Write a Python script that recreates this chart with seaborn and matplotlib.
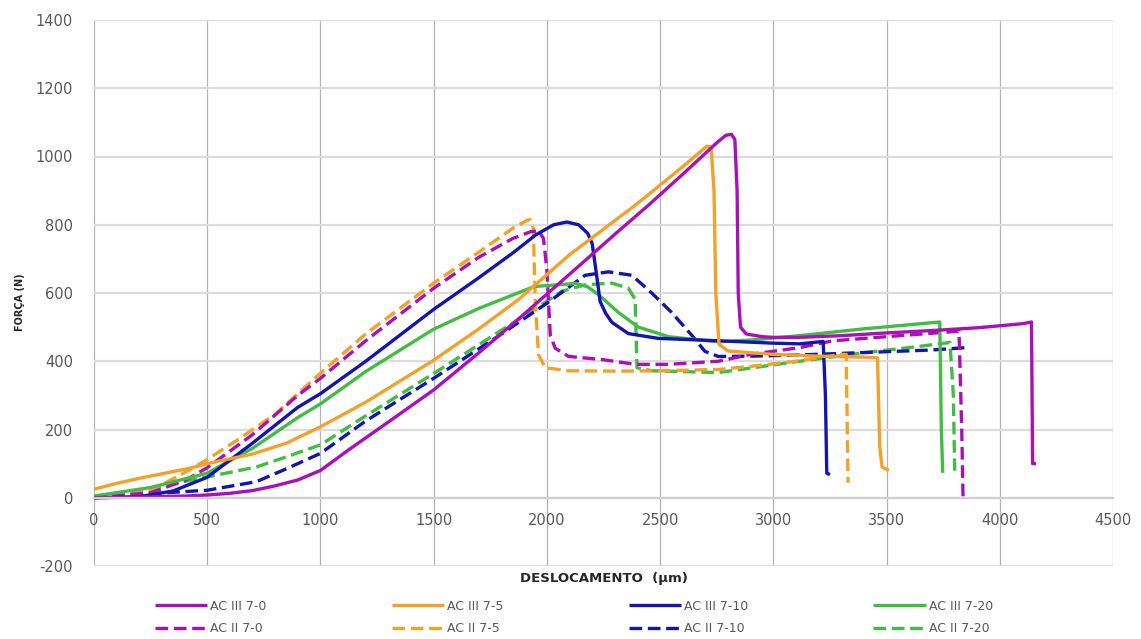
import numpy as np
import pandas as pd
import matplotlib
matplotlib.use("Agg")
import matplotlib.pyplot as plt
import seaborn as sns

# ---------------- data ----------------
x_iii_0 = [0, 200, 400, 500, 600, 700, 800, 900, 1000, 1130, 1300, 1500, 1700, 1875, 2100, 2300, 2448, 2600, 2750, 2790, 2815, 2830, 2840, 2845, 2855, 2880, 2950, 3000, 3117, 3300, 3500, 3700, 3900, 4100, 4140, 4145, 4160]
y_iii_0 = [0, 2, 5, 8, 13, 21, 35, 52, 80, 143, 222, 316, 425, 524, 655, 772, 857, 948, 1040, 1062, 1065, 1050, 900, 600, 500, 480, 472, 470, 470, 475, 483, 490, 498, 510, 515, 100, 100]

x_iii_5 = [0, 100, 200, 420, 500, 700, 850, 1000, 1200, 1500, 1700, 1875, 2100, 2390, 2600, 2706, 2725, 2738, 2746, 2760, 2800, 3000, 3200, 3400, 3460, 3470, 3480, 3510]
y_iii_5 = [25, 42, 57, 86, 100, 128, 160, 208, 280, 403, 495, 581, 712, 857, 970, 1030, 1028, 900, 600, 450, 430, 420, 415, 412, 410, 150, 90, 80]

x_iii_10 = [0, 200, 350, 500, 700, 900, 1000, 1200, 1500, 1700, 1855, 1950, 2030, 2088, 2140, 2180, 2200, 2220, 2235, 2260, 2287, 2360, 2492, 2757, 3000, 3117, 3220, 3230, 3236, 3250]
y_iii_10 = [0, 3, 20, 60, 160, 265, 305, 400, 552, 645, 720, 770, 800, 808, 800, 775, 745, 650, 575, 540, 514, 481, 467, 460, 453, 451, 458, 300, 72, 68]

x_iii_20 = [0, 250, 500, 700, 900, 1000, 1200, 1500, 1700, 1944, 2130, 2180, 2228, 2316, 2404, 2537, 2757, 2900, 3117, 3400, 3700, 3735, 3742, 3748]
y_iii_20 = [5, 30, 72, 145, 235, 275, 370, 494, 555, 619, 628, 618, 595, 543, 500, 472, 457, 462, 475, 495, 513, 515, 200, 73]

x_ii_0 = [0, 250, 400, 500, 700, 900, 1000, 1200, 1500, 1700, 1850, 1930, 1963, 1985, 2000, 2015, 2037, 2096, 2243, 2390, 2537, 2757, 2900, 3117, 3263, 3558, 3820, 3832, 3838]
y_ii_0 = [0, 15, 50, 88, 185, 300, 350, 460, 614, 705, 760, 780, 782, 760, 667, 476, 438, 414, 405, 391, 391, 400, 420, 440, 460, 475, 488, 200, -5]

x_ii_5 = [0, 250, 420, 500, 644, 800, 900, 1000, 1200, 1500, 1700, 1850, 1910, 1926, 1940, 1949, 1963, 1993, 2096, 2300, 2500, 2757, 2900, 3100, 3300, 3322, 3330]
y_ii_5 = [0, 20, 81, 112, 174, 245, 305, 365, 480, 629, 720, 790, 812, 815, 790, 571, 419, 381, 372, 371, 372, 376, 385, 400, 420, 420, 44]

x_ii_10 = [0, 276, 500, 717, 850, 1000, 1200, 1500, 1800, 2000, 2169, 2272, 2375, 2463, 2551, 2640, 2698, 2757, 2900, 3100, 3300, 3500, 3700, 3854]
y_ii_10 = [0, 13, 22, 47, 85, 130, 225, 350, 480, 570, 652, 662, 652, 600, 543, 476, 429, 414, 415, 418, 423, 428, 433, 440]

x_ii_20 = [0, 203, 500, 717, 850, 1000, 1200, 1500, 1750, 1963, 2066, 2169, 2287, 2360, 2390, 2395, 2398, 2463, 2757, 2900, 3117, 3400, 3600, 3780, 3795, 3801]
y_ii_20 = [3, 22, 61, 90, 120, 155, 240, 364, 470, 560, 605, 624, 629, 614, 581, 450, 381, 372, 367, 380, 400, 425, 440, 455, 300, 79]

labels = ["AC III 7-0", "AC II 7-0", "AC III 7-5", "AC II 7-5",
          "AC III 7-10", "AC II 7-10", "AC III 7-20", "AC II 7-20"]
x_ticks = [0, 500, 1000, 1500, 2000, 2500, 3000, 3500, 4000, 4500]
y_ticks = [-200, 0, 200, 400, 600, 800, 1000, 1200, 1400]

series = {
    "AC III 7-0": (x_iii_0, y_iii_0),
    "AC II 7-0": (x_ii_0, y_ii_0),
    "AC III 7-5": (x_iii_5, y_iii_5),
    "AC II 7-5": (x_ii_5, y_ii_5),
    "AC III 7-10": (x_iii_10, y_iii_10),
    "AC II 7-10": (x_ii_10, y_ii_10),
    "AC III 7-20": (x_iii_20, y_iii_20),
    "AC II 7-20": (x_ii_20, y_ii_20),
}

colors = {"7-0": "#AA10B8", "7-5": "#F2A22A", "7-10": "#1414B0", "7-20": "#44BB44"}

# ---------------- figure ----------------
sns.set_theme(style="white")
plt.rcParams["font.family"] = ["DejaVu Sans"]

fig = plt.figure(figsize=(11.41, 6.39), dpi=100)
ax = fig.add_axes([94 / 1141, 1 - 566 / 639, (1113 - 94) / 1141, (566 - 20) / 639])

draw_order = ["AC II 7-20", "AC II 7-10", "AC II 7-5", "AC II 7-0",
              "AC III 7-20", "AC III 7-10", "AC III 7-5", "AC III 7-0"]
handles = {}
for name in draw_order:
    xs, ys = series[name]
    grp = name.split()[-1]
    dashed = name.startswith("AC II ")
    df = pd.DataFrame({"x": xs, "y": ys})
    sns.lineplot(data=df, x="x", y="y", ax=ax, sort=False, estimator=None,
                 color=colors[grp], linewidth=2.4, label=name)
    line = ax.lines[-1]
    line.set_solid_capstyle("butt")
    line.set_solid_joinstyle("round")
    if dashed:
        line.set_dashes((3.8, 1.7))
        line.set_dash_capstyle("butt")
    handles[name] = line

ax.set_xlim(0, 4500)
ax.set_ylim(-200, 1400)
ax.set_xticks(x_ticks)
ax.set_yticks(y_ticks)
ax.set_xticklabels([str(v) for v in x_ticks])
ax.set_yticklabels([str(v) for v in y_ticks])

ax.xaxis.grid(True, color="#b4b4b4", linewidth=0.9)
ax.yaxis.grid(True, color="#dcdcdc", linewidth=1.6)
ax.set_axisbelow(True)
for s in ["top", "right", "left"]:
    ax.spines[s].set_visible(False)
ax.spines["bottom"].set_position(("data", 0))
ax.spines["bottom"].set_color("#d0d0d0")
ax.spines["bottom"].set_linewidth(1.6)

ax.tick_params(axis="x", length=0, pad=11, labelsize=10.5, labelcolor="#595959")
ax.tick_params(axis="y", length=0, pad=15, labelsize=10.5, labelcolor="#595959")

ax.set_xlabel("DESLOCAMENTO  (µm)", fontsize=9.5, fontweight="bold", color="#262626")
ax.xaxis.set_label_coords(0.5005, -0.011)
ax.set_ylabel("FORÇA (N)", fontsize=7, fontweight="bold", color="#262626")
ax.yaxis.set_label_coords(-0.068, 0.484)

leg_handles = [handles[l] for l in labels]
if ax.get_legend() is not None:
    ax.get_legend().remove()
fig.legend(leg_handles, labels, loc="center", ncol=4,
           bbox_to_anchor=(0.503, 0.034), bbox_transform=fig.transFigure,
           frameon=False, fontsize=9, handlelength=4.2, handletextpad=0.25,
           columnspacing=10.0, labelspacing=0.75, labelcolor="#595959")

fig.savefig("out.png", dpi=100)
